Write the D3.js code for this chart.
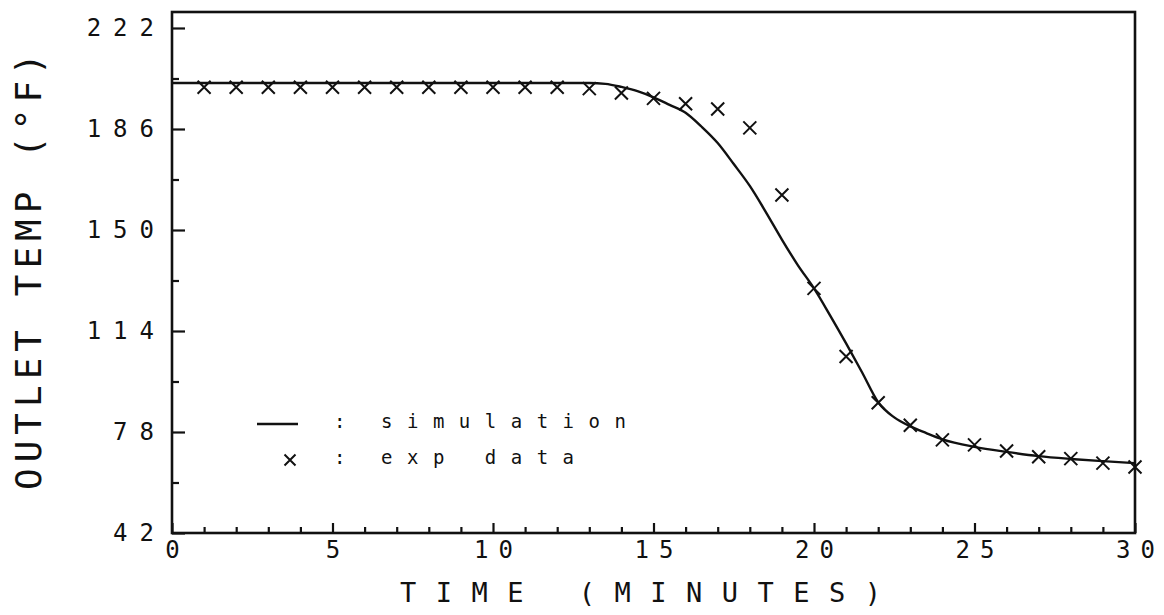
<!DOCTYPE html>
<html>
<head>
<meta charset="utf-8">
<script src="https://cdn.jsdelivr.net/npm/d3@7"></script>
<style>
  body { margin: 0; background: #fff; }
  svg { display: block; }
  .tick text { font-family: "DejaVu Sans Mono", monospace; fill: #111; }
</style>
</head>
<body>
<script>
// chart values
var expTime = [1, 2, 3, 4, 5, 6, 7, 8, 9, 10, 11, 12, 13, 14, 15, 16, 17, 18, 19, 20,
               21, 22, 23, 24, 25, 26, 27, 28, 29, 30];
var expTemp = [200.9, 200.9, 200.9, 200.9, 200.9, 200.9, 200.9, 200.9, 200.9, 200.9,
               200.9, 200.9, 200.4, 198.8, 196.9, 195.0, 193.1, 186.4, 162.5, 129.2,
               104.9, 88.4, 80.4, 75.2, 73.4, 71.2, 69.2, 68.5, 66.9, 65.5];

var simTime = [0, 13, 13.5, 14, 14.5, 15, 15.5, 16, 16.5, 17, 17.5, 18, 18.5, 19, 19.5,
               20, 20.5, 21, 21.5, 22, 22.5, 23, 23.5, 24, 25, 26, 27, 28, 29, 30];
var simTemp = [202.4, 202.4, 202.1, 201.0, 199.5, 197.3, 194.6, 191.8, 186.8, 181.0, 173.5,
               165.7, 156.4, 146.6, 137.4, 129.2, 119.6, 109.6, 99.2, 88.6, 83.2,
               80.0, 77.6, 75.4, 72.7, 70.9, 69.4, 68.4, 67.6, 66.9];

var yMajorTicks = [42, 78, 114, 150, 186, 222];
var yMinorTicks = [60, 96, 132, 168, 204];
var xMajorTicks = [0, 5, 10, 15, 20, 25, 30];
var xMinorTicks = [1, 2, 3, 4, 6, 7, 8, 9, 11, 12, 13, 14, 16, 17, 18, 19, 21, 22, 23, 24,
                   26, 27, 28, 29];

var legendLabels = ["simulation", "exp data"];

// SVG area
var svgWidth = 1164;
var svgHeight = 615;

var margin = { top: 12, right: 29, bottom: 82, left: 172 };
var chartWidth = svgWidth - margin.left - margin.right;
var chartHeight = svgHeight - margin.top - margin.bottom;

var ink = "#111";

var svg = d3.select("body")
  .append("svg")
  .attr("width", svgWidth)
  .attr("height", svgHeight);

var chartGroup = svg.append("g")
  .attr("transform", `translate(${margin.left}, ${margin.top})`);

var xScale = d3.scaleLinear()
  .domain([0, 30])
  .range([0, chartWidth]);

var yScale = d3.scaleLinear()
  .domain([42, 227.7])
  .range([chartHeight, 0]);

// minor ticks (no labels)
chartGroup.append("g")
  .attr("transform", `translate(0, ${chartHeight})`)
  .call(d3.axisBottom(xScale).tickValues(xMinorTicks).tickSizeInner(-6).tickSizeOuter(0).tickFormat(""))
  .call(g => g.select(".domain").remove());

chartGroup.append("g")
  .call(d3.axisLeft(yScale).tickValues(yMinorTicks).tickSizeInner(-7).tickSizeOuter(0).tickFormat(""))
  .call(g => g.select(".domain").remove());

// major ticks with labels
var bottomAxis = d3.axisBottom(xScale)
  .tickValues(xMajorTicks)
  .tickSizeInner(-10)
  .tickSizeOuter(0)
  .tickPadding(8);

var leftAxis = d3.axisLeft(yScale)
  .tickValues(yMajorTicks)
  .tickSizeInner(-13)
  .tickSizeOuter(0)
  .tickPadding(6);

chartGroup.append("g")
  .attr("transform", `translate(0, ${chartHeight})`)
  .call(bottomAxis)
  .call(g => g.selectAll("text").attr("font-size", 24).attr("letter-spacing", 10).attr("dx", 5));

chartGroup.append("g")
  .call(leftAxis)
  .call(g => g.selectAll("text").attr("font-size", 24).attr("letter-spacing", 12));

chartGroup.selectAll(".tick line").attr("stroke", ink).attr("stroke-width", 2.2);

// frame
chartGroup.append("rect")
  .attr("x", 0)
  .attr("y", 0)
  .attr("width", chartWidth)
  .attr("height", chartHeight)
  .attr("fill", "none")
  .attr("stroke", ink)
  .attr("stroke-width", 2.6);

// simulation line
var drawLine = d3.line()
  .x((d, i) => xScale(simTime[i]))
  .y(d => yScale(d))
  .curve(d3.curveMonotoneX);

chartGroup.append("path")
  .attr("d", drawLine(simTemp))
  .attr("fill", "none")
  .attr("stroke", ink)
  .attr("stroke-width", 2.4);

// experimental crosses
var crossPath = "M-6.5,-6.5L6.5,6.5M-6.5,6.5L6.5,-6.5";

chartGroup.selectAll(".cross")
  .data(expTemp)
  .enter()
  .append("path")
  .classed("cross", true)
  .attr("transform", (d, i) => `translate(${xScale(expTime[i])}, ${yScale(d)})`)
  .attr("d", crossPath)
  .attr("stroke", ink)
  .attr("stroke-width", 2)
  .attr("fill", "none");

// legend
var legendGroup = svg.append("g")
  .attr("font-family", "DejaVu Sans Mono, monospace")
  .attr("font-size", 19)
  .attr("fill", ink);

legendGroup.append("line")
  .attr("x1", 257).attr("x2", 298)
  .attr("y1", 424).attr("y2", 424)
  .attr("stroke", ink)
  .attr("stroke-width", 2.6);

legendGroup.append("path")
  .attr("transform", "translate(290, 460)")
  .attr("d", "M-5.5,-5.5L5.5,5.5M-5.5,5.5L5.5,-5.5")
  .attr("stroke", ink)
  .attr("stroke-width", 2)
  .attr("fill", "none");

legendGroup.selectAll(".colon")
  .data(legendLabels)
  .enter()
  .append("text")
  .attr("x", 334)
  .attr("y", (d, i) => 428 + i * 36)
  .text(":");

legendGroup.selectAll(".label")
  .data(legendLabels)
  .enter()
  .append("text")
  .attr("x", 381)
  .attr("y", (d, i) => 428 + i * 36)
  .attr("letter-spacing", 14.5)
  .text(d => d);

// axis titles
svg.append("text")
  .attr("x", 400)
  .attr("y", 602)
  .attr("font-family", "DejaVu Sans Mono, monospace")
  .attr("font-size", 27)
  .attr("letter-spacing", 19.5)
  .attr("fill", ink)
  .text("TIME (MINUTES)");

svg.append("text")
  .attr("transform", "rotate(-90)")
  .attr("x", -490)
  .attr("y", 41)
  .attr("font-family", "DejaVu Sans Mono, monospace")
  .attr("font-size", 36)
  .attr("letter-spacing", 6)
  .attr("fill", ink)
  .text("OUTLET TEMP (°F)");
</script>
</body>
</html>
